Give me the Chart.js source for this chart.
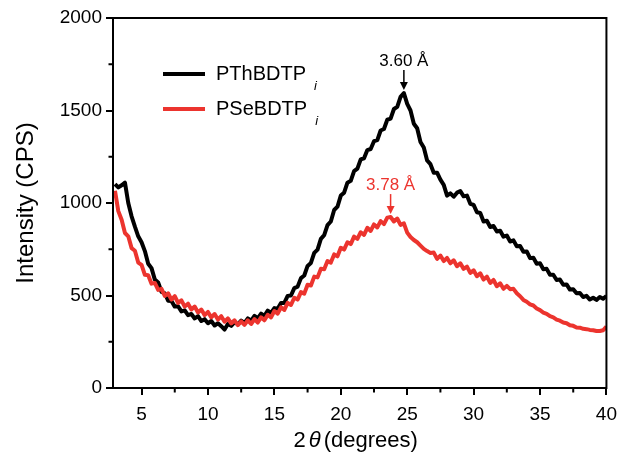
<!DOCTYPE html>
<html>
<head>
<meta charset="utf-8">
<script src="https://cdn.jsdelivr.net/npm/chart.js@4.4.0/dist/chart.umd.min.js"></script>
<style>
  body { margin: 0; background: #fff; }
  canvas { display: block; }
</style>
</head>
<body>
<canvas id="xrd-chart" width="625" height="458"></canvas>
<script>
// 2theta grid (degrees)
const twoTheta = [
  3, 3.25, 3.5, 3.75, 4, 4.25, 4.5, 4.75,
  5, 5.25, 5.5, 5.75, 6, 6.25, 6.5, 6.75,
  7, 7.25, 7.5, 7.75, 8, 8.25, 8.5, 8.75,
  9, 9.25, 9.5, 9.75, 10, 10.25, 10.5, 10.75,
  11, 11.25, 11.5, 11.75, 12, 12.25, 12.5, 12.75,
  13, 13.25, 13.5, 13.75, 14, 14.25, 14.5, 14.75,
  15, 15.25, 15.5, 15.75, 16, 16.25, 16.5, 16.75,
  17, 17.25, 17.5, 17.75, 18, 18.25, 18.5, 18.75,
  19, 19.25, 19.5, 19.75, 20, 20.25, 20.5, 20.75,
  21, 21.25, 21.5, 21.75, 22, 22.25, 22.5, 22.75,
  23, 23.25, 23.5, 23.75, 24, 24.25, 24.5, 24.75,
  25, 25.25, 25.5, 25.75, 26, 26.25, 26.5, 26.75,
  27, 27.25, 27.5, 27.75, 28, 28.25, 28.5, 28.75,
  29, 29.25, 29.5, 29.75, 30, 30.25, 30.5, 30.75,
  31, 31.25, 31.5, 31.75, 32, 32.25, 32.5, 32.75,
  33, 33.25, 33.5, 33.75, 34, 34.25, 34.5, 34.75,
  35, 35.25, 35.5, 35.75, 36, 36.25, 36.5, 36.75,
  37, 37.25, 37.5, 37.75, 38, 38.25, 38.5, 38.75,
  39, 39.25, 39.5, 39.75, 40
];

// PThBDTPi intensity (CPS)
const pthIntensity = [
  1102, 1084, 1096, 1110, 1000, 928, 872, 820,
  788, 740, 672, 648, 586, 570, 520, 512,
  472, 470, 440, 442, 414, 420, 394, 400,
  376, 388, 362, 372, 350, 362, 338, 350,
  334, 316, 346, 336, 356, 344, 364, 352,
  376, 364, 390, 376, 402, 390, 418, 406,
  432, 428, 460, 460, 498, 500, 540, 548,
  594, 608, 660, 676, 730, 748, 806, 826,
  880, 900, 962, 980, 1040, 1056, 1110, 1120,
  1172, 1186, 1236, 1242, 1286, 1292, 1334, 1340,
  1392, 1400, 1450, 1456, 1508, 1520, 1574, 1594,
  1536, 1500, 1428, 1404, 1330, 1300, 1230, 1210,
  1164, 1164, 1126, 1098, 1040, 1052, 1034, 1056,
  1064, 1036, 1040, 996, 990, 950, 946, 900,
  904, 870, 876, 846, 850, 818, 824, 792,
  798, 766, 768, 736, 738, 702, 704, 672,
  674, 642, 644, 612, 612, 584, 586, 558,
  560, 532, 534, 512, 514, 492, 498, 478,
  488, 476, 492, 482, 498
];

// PSeBDTPi intensity (CPS)
const pseIntensity = [
  1066, 956, 910, 838, 820, 756, 742, 678,
  666, 612, 610, 564, 568, 530, 536, 498,
  512, 478, 496, 460, 474, 440, 456, 424,
  440, 408, 424, 394, 411, 382, 400, 370,
  388, 358, 376, 349, 366, 340, 360, 341,
  366, 346, 372, 354, 382, 366, 396, 382,
  416, 402, 436, 422, 460, 449, 488, 478,
  518, 510, 558, 554, 602, 598, 644, 642,
  686, 678, 722, 712, 758, 748, 788, 778,
  818, 806, 842, 828, 866, 849, 884, 868,
  902, 886, 921, 924, 900, 916, 882, 890,
  840, 816, 800, 788, 770, 752, 740, 730,
  732, 698, 716, 686, 703, 674, 690, 658,
  674, 644, 656, 622, 636, 604, 620, 586,
  602, 568, 584, 550, 566, 536, 552, 534,
  536, 512, 496, 476, 466, 452, 446, 430,
  421, 408, 401, 388, 382, 370, 364, 354,
  350, 339, 336, 327, 326, 320, 318, 314,
  312, 308, 308, 312, 332
];

const seriesNames = ["PThBDTP", "PSeBDTP"];
const peakAngles = [24.75, 23.75];
const peakLabels = ["3.60 Å", "3.78 Å"];
const xTicks = [5, 10, 15, 20, 25, 30, 35, 40];
const xMinorTicks = [7.5, 12.5, 17.5, 22.5, 27.5, 32.5, 37.5];
const yTicks = [0, 500, 1000, 1500, 2000];
const yMinorTicks = [250, 750, 1250, 1750];

const fontFamily = "'Liberation Sans', Arial, sans-serif";
const red = "rgb(236, 52, 46)";
const seriesColors = ["#000000", red];

// frame, minor ticks, legend, peak arrows, x title
const extras = {
  id: "extras",
  afterDraw(chart) {
    const { ctx, chartArea: a, scales: { x, y } } = chart;
    ctx.save();
    ctx.strokeStyle = "#000";
    ctx.lineWidth = 2;
    ctx.strokeRect(a.left, a.top, a.right - a.left, a.bottom - a.top);

    ctx.beginPath();
    xMinorTicks.forEach((v) => {
      const px = x.getPixelForValue(v);
      ctx.moveTo(px, a.bottom);
      ctx.lineTo(px, a.bottom + 4.5);
    });
    yMinorTicks.forEach((v) => {
      const py = y.getPixelForValue(v);
      ctx.moveTo(a.left, py);
      ctx.lineTo(a.left - 4.5, py);
    });
    ctx.stroke();

    // legend
    const legendY = [74, 109];
    seriesNames.forEach((name, i) => {
      ctx.strokeStyle = seriesColors[i];
      ctx.lineWidth = 4;
      ctx.beginPath();
      ctx.moveTo(163, legendY[i]);
      ctx.lineTo(205, legendY[i]);
      ctx.stroke();
      ctx.fillStyle = "#000";
      ctx.font = "20px " + fontFamily;
      ctx.textAlign = "left";
      ctx.textBaseline = "middle";
      ctx.fillText(name, 216, legendY[i]);
      const w = ctx.measureText(name).width;
      ctx.font = "italic 13px " + fontFamily;
      ctx.fillText("i", 216 + w + 8, legendY[i] + 12);
    });

    // peak markers
    [pthIntensity, pseIntensity].forEach((vals, i) => {
      const k = twoTheta.indexOf(peakAngles[i]);
      const px = x.getPixelForValue(twoTheta[k]);
      const py = y.getPixelForValue(vals[k]);
      ctx.strokeStyle = seriesColors[i];
      ctx.fillStyle = seriesColors[i];
      ctx.lineWidth = 1.5;
      ctx.beginPath();
      ctx.moveTo(px, py - 23);
      ctx.lineTo(px, py - 10);
      ctx.stroke();
      ctx.beginPath();
      ctx.moveTo(px - 4, py - 11);
      ctx.lineTo(px + 4, py - 11);
      ctx.lineTo(px, py - 3);
      ctx.closePath();
      ctx.fill();
      ctx.font = "17px " + fontFamily;
      ctx.textAlign = "center";
      ctx.textBaseline = "middle";
      ctx.fillText(peakLabels[i], px, py - 32);
    });

    // x axis title: 2θ (degrees)
    ctx.fillStyle = "#000";
    ctx.textBaseline = "middle";
    ctx.textAlign = "left";
    const ty = 441;
    ctx.font = "22px " + fontFamily;
    const w2 = ctx.measureText("2").width;
    const wRest = ctx.measureText("(degrees)").width;
    ctx.font = "italic 22px " + fontFamily;
    const wTheta = ctx.measureText("θ").width;
    const total = w2 + 3 + wTheta + 3 + wRest;
    let tx = (a.left + a.right) / 2 - total / 2 - 4;
    ctx.font = "22px " + fontFamily;
    ctx.fillText("2", tx, ty);
    tx += w2 + 3;
    ctx.font = "italic 22px " + fontFamily;
    ctx.fillText("θ", tx, ty);
    tx += wTheta + 3;
    ctx.font = "22px " + fontFamily;
    ctx.fillText("(degrees)", tx, ty);
    ctx.restore();
  }
};

const xrdChart = new Chart(document.getElementById("xrd-chart"), {
  type: "line",
  data: {
    datasets: [
      {
        label: seriesNames[0],
        data: twoTheta.map((t, i) => ({ x: t, y: pthIntensity[i] })),
        borderColor: seriesColors[0],
        borderWidth: 4,
        order: 1,
      },
      {
        label: seriesNames[1],
        data: twoTheta.map((t, i) => ({ x: t, y: pseIntensity[i] })),
        borderColor: seriesColors[1],
        borderWidth: 4,
        order: 0,
      },
    ],
  },
  options: {
    responsive: false,
    animation: false,
    layout: { padding: { top: 18, right: 14, left: 0, bottom: 0 } },
    elements: { point: { radius: 0 }, line: { tension: 0, borderJoinStyle: "round" } },
    plugins: { legend: { display: false }, tooltip: { enabled: false } },
    scales: {
      x: {
        type: "linear",
        min: 2.85,
        max: 40,
        afterBuildTicks: (s) => { s.ticks = xTicks.map((v) => ({ value: v })); },
        afterFit: (s) => { s.height = 70; },
        grid: { drawOnChartArea: false, tickLength: 7, color: "#000", lineWidth: 2 },
        border: { color: "#000", width: 2 },
        ticks: { color: "#000", font: { size: 19, family: fontFamily }, padding: 8, maxRotation: 0 },
      },
      y: {
        min: 0,
        max: 2000,
        afterBuildTicks: (s) => { s.ticks = yTicks.map((v) => ({ value: v })); },
        afterFit: (s) => { s.width = 113; },
        grid: { drawOnChartArea: false, tickLength: 7, color: "#000", lineWidth: 2 },
        border: { color: "#000", width: 2 },
        ticks: {
          color: "#000",
          font: { size: 19, family: fontFamily },
          padding: 4,
          callback: (v) => String(v),
        },
        title: {
          display: true,
          text: "Intensity (CPS)",
          color: "#000",
          font: { size: 24, family: fontFamily },
          padding: { top: 12, bottom: 0 },
        },
      },
    },
  },
  plugins: [extras],
});
</script>
</body>
</html>
